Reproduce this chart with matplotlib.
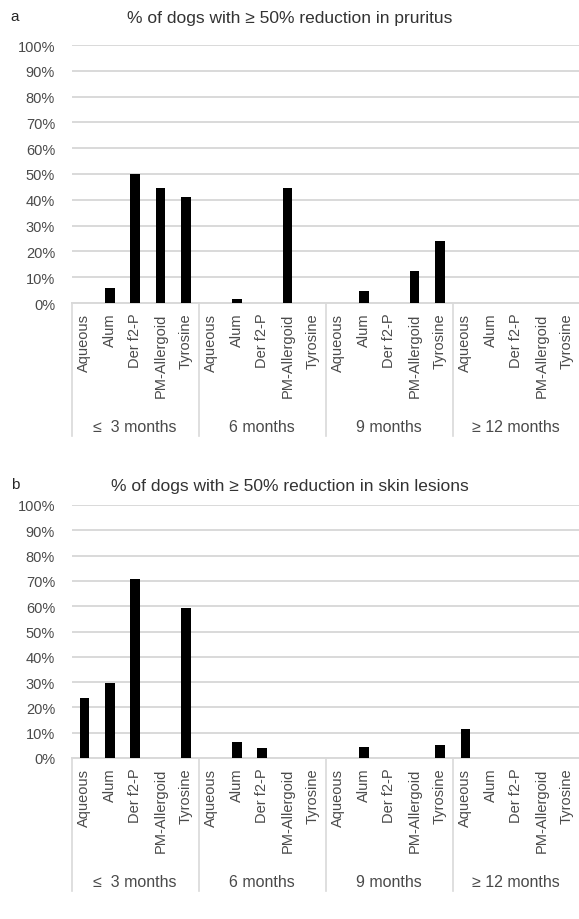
import numpy as np
import matplotlib.pyplot as plt
from matplotlib.ticker import PercentFormatter

plt.rcParams['font.family'] = ['Liberation Sans', 'DejaVu Sans']

formulations = ["Aqueous", "Alum", "Der f2-P", "PM-Allergoid", "Tyrosine"]
periods = ["\u2264  3 months", "6 months", "9 months", "\u2265 12 months"]

# % of dogs, in order period by period, formulation within each period
pruritus = [0, 5.9, 50.0, 44.4, 41.2,
            0, 1.4, 0, 44.4, 0,
            0, 4.5, 0, 12.5, 24.1,
            0, 0, 0, 0, 0]
skin_lesions = [23.6, 29.5, 70.8, 0, 59.2,
                0, 6.2, 3.8, 0, 0,
                0, 4.2, 0, 0, 5.2,
                11.5, 0, 0, 0, 0]

W, H = 579, 920
GRID = '#d9d9d9'
TXT = '#4a4a4a'


def draw_panel(fig, letter, title, values, bottom_px, top_px, title_y):
    ax = fig.add_axes([71.7 / W, 1 - bottom_px / H, 508 / W, (bottom_px - top_px) / H])
    n = len(values)
    x = np.arange(n)
    ax.bar(x, np.array(values) / 100, width=0.38, color='black', zorder=3)

    ax.set_xlim(-0.5, n - 0.5)
    ax.set_ylim(0, 1)
    ax.set_yticks(np.linspace(0, 1, 11))
    ax.yaxis.set_major_formatter(PercentFormatter(1.0, decimals=0))
    ax.grid(axis='y', color=GRID, linewidth=1.4, zorder=0)
    for s in ['top', 'right', 'left']:
        ax.spines[s].set_visible(False)
    ax.spines['bottom'].set_color(GRID)
    ax.spines['bottom'].set_linewidth(1.4)

    labels = formulations * len(periods)
    ax.set_xticks(x)
    ax.set_xticklabels(labels, rotation=90, fontsize=10.5, color=TXT)
    ax.tick_params(axis='x', length=0, pad=7)
    ax.tick_params(axis='y', length=0, pad=12, labelsize=10.5, labelcolor=TXT)

    # group dividers and period labels below the category labels
    ax_h = bottom_px - top_px
    depth = 133 / ax_h
    k = len(formulations)
    for g in range(len(periods) + 1):
        xs = g * k - 0.5
        ax.plot([xs, xs], [0, -depth], color=GRID, linewidth=1.2,
                transform=ax.get_xaxis_transform(), clip_on=False)
    for g, p in enumerate(periods):
        ax.text(g * k + (k - 1) / 2, -124 / ax_h, p, transform=ax.get_xaxis_transform(),
                ha='center', va='center', fontsize=11.5, color=TXT)

    fig.text(0.5, 1 - title_y / H, title, ha='center', va='center', fontsize=12.5, color='#333333')
    fig.text(15 / W, 1 - (title_y - 2) / H, letter, ha='center', va='center', fontsize=11, color='#262626')
    return ax


fig = plt.figure(figsize=(W / 100, H / 100), dpi=100)
draw_panel(fig, 'a', "% of dogs with \u2265 50% reduction in pruritus", pruritus, 304, 46, 19)
draw_panel(fig, 'b', "% of dogs with \u2265 50% reduction in skin lesions", skin_lesions, 759, 506, 487)

fig.savefig('out.png', dpi=100)
